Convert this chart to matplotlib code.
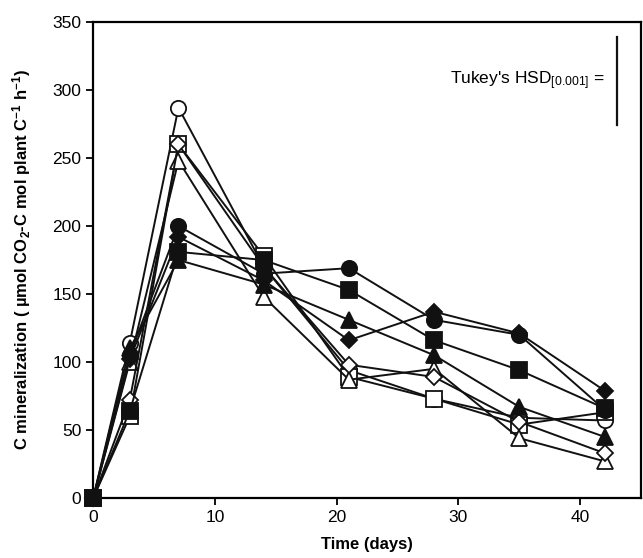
import matplotlib
matplotlib.use("Agg")
import matplotlib.pyplot as plt

plt.rcParams['font.family'] = ['Liberation Sans', 'DejaVu Sans']
plt.rcParams['mathtext.fontset'] = 'custom'
plt.rcParams['mathtext.rm'] = 'Liberation Sans'
plt.rcParams['mathtext.bf'] = 'Liberation Sans:bold'
plt.rcParams['mathtext.default'] = 'regular'

days = [0, 3, 7, 14, 21, 28, 35, 42]

filled_circle   = [0, 105, 200, 165, 169, 131, 120, 65]
filled_square   = [0, 64, 181, 175, 153, 116, 94, 66]
filled_triangle = [0, 110, 175, 157, 131, 105, 67, 45]
filled_diamond  = [0, 102, 192, 160, 116, 137, 121, 79]
open_circle     = [0, 114, 287, 170, 94, 73, 59, 57]
open_square     = [0, 60, 260, 178, 89, 73, 54, 63]
open_triangle   = [0, 100, 248, 148, 87, 95, 44, 27]
open_diamond    = [0, 72, 260, 170, 98, 89, 56, 33]

hsd_value = 65
hsd_x = 43.0
hsd_top = 339

series = [
    (open_circle, 'o', 'white'),
    (open_square, 's', 'white'),
    (open_triangle, '^', 'white'),
    (open_diamond, 'D', 'white'),
    (filled_circle, 'o', '#111111'),
    (filled_square, 's', '#111111'),
    (filled_triangle, '^', '#111111'),
    (filled_diamond, 'D', '#111111'),
]

fig = plt.figure(figsize=(6.43, 5.58), dpi=100)
ax = fig.add_axes([0.145, 0.1075, 0.852, 0.853])

for vals, m, fc in series:
    ms = 11 if m in ('o', 's', '^') else 8.5
    ax.plot(days, vals, color='#111111', lw=1.4, marker=m, markersize=ms,
            markerfacecolor=fc, markeredgecolor='#111111', markeredgewidth=1.3,
            clip_on=False, zorder=3)

ax.set_xlim(0, 45)
ax.set_ylim(0, 350)
ax.set_xticks([0, 10, 20, 30, 40])
ax.set_yticks(range(0, 351, 50))
ax.tick_params(direction='out', length=5, width=1.3, labelsize=12.5, top=False, right=False)
for s in ax.spines.values():
    s.set_linewidth(1.6)

ax.set_xlabel('Time (days)', fontsize=12, fontweight='bold', labelpad=9)
ax.set_ylabel(r'C mineralization ( µmol CO$_{\mathbf{2}}$-C mol plant C$^{\mathbf{-1}}$ h$^{\mathbf{-1}}$)',
              fontsize=12, fontweight='bold', labelpad=14)

ax.plot([hsd_x, hsd_x], [hsd_top - hsd_value, hsd_top], color='#111111', lw=1.6)
ax.text(42.0, hsd_top - hsd_value / 2, r"Tukey's HSD$_{[0.001]}$ =", ha='right', va='center', fontsize=12.5)

fig.savefig('out.png', dpi=100)
